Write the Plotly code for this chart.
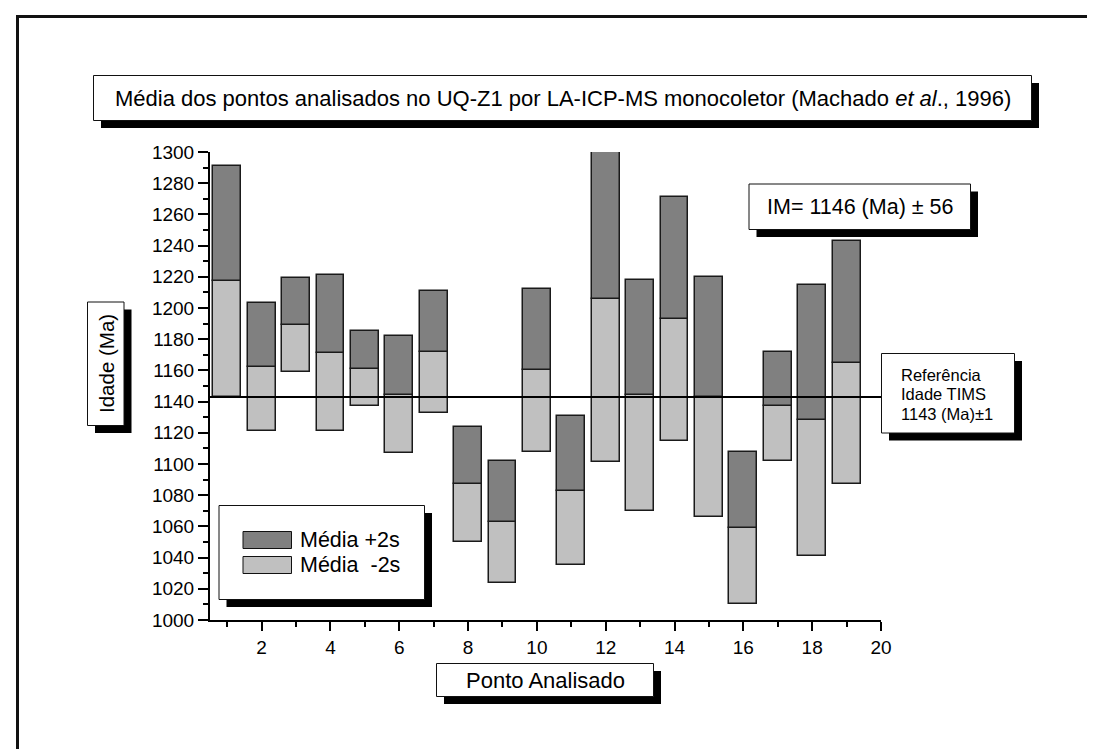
import plotly.graph_objects as go

# ---- data ----
points = list(range(1, 20))
media_menos_2s = [1143, 1121, 1159, 1121, 1137, 1107, 1133, 1050, 1024, 1108,
                  1035, 1101, 1070, 1115, 1066, 1010, 1102, 1041, 1087]
media = [1217, 1162, 1189, 1171, 1161, 1144, 1172, 1087, 1063, 1160,
         1083, 1206, 1144, 1193, 1143, 1059, 1137, 1128, 1165]
media_mais_2s = [1291, 1203, 1219, 1221, 1185, 1182, 1211, 1124, 1102, 1212,
                 1131, 1311, 1218, 1271, 1220, 1108, 1172, 1215, 1243]
ref_age = 1143

title_text = "Média dos pontos analisados no UQ-Z1 por LA-ICP-MS monocoletor (Machado <i>et al</i>., 1996)"
y_title = "Idade (Ma)"
x_title = "Ponto Analisado"
im_text = "IM= 1146 (Ma) ± 56"
ref_lines = ["Referência", "Idade TIMS", "1143 (Ma)±1"]
legend_labels = ["Média +2s", "Média\u00a0 -2s"]

DARK = "#808080"
LIGHT = "#c0c0c0"
FONT = "Liberation Sans, Arial, sans-serif"

W, H = 1095, 749
L, R, T, B = 202, 873, 144, 612

def px(x):
    return (x - L) / (R - L)

def py(y):
    return (B - y) / (B - T)

fig = go.Figure()

fig.add_trace(go.Bar(
    x=points, y=[m - lo for m, lo in zip(media, media_menos_2s)], base=media_menos_2s,
    width=0.81, marker=dict(color=LIGHT, line=dict(color="#1a1a1a", width=1.5)),
    name=legend_labels[1], showlegend=False, hoverinfo="skip"))
fig.add_trace(go.Bar(
    x=points, y=[hi - m for hi, m in zip(media_mais_2s, media)], base=media,
    width=0.81, marker=dict(color=DARK, line=dict(color="#1a1a1a", width=1.5)),
    name=legend_labels[0], showlegend=False, hoverinfo="skip"))

shapes = []
annotations = []

# outer frame
shapes.append(dict(type="rect", xref="paper", yref="paper",
                   x0=px(9.5), x1=px(1110), y0=py(8.5), y1=py(770),
                   line=dict(color="#111", width=3), fillcolor="rgba(0,0,0,0)", layer="above"))

def shadow_box(x0, y0, x1, y1, off=7.5):
    shapes.append(dict(type="rect", xref="paper", yref="paper",
                       x0=px(x0 + off), x1=px(x1 + off), y0=py(y0 + off), y1=py(y1 + off),
                       line=dict(width=0), fillcolor="black", layer="above"))
    shapes.append(dict(type="rect", xref="paper", yref="paper",
                       x0=px(x0), x1=px(x1), y0=py(y0), y1=py(y1),
                       line=dict(color="#111", width=1), fillcolor="white", layer="above"))

def text(x, y, s, size=20, xanchor="center", angle=0):
    annotations.append(dict(xref="paper", yref="paper", x=px(x), y=py(y), text=s,
                            showarrow=False, xanchor=xanchor, yanchor="middle",
                            textangle=angle, font=dict(family=FONT, size=size, color="black")))

# reference line
shapes.append(dict(type="line", xref="paper", yref="y", x0=0, x1=px(876),
                   y0=ref_age, y1=ref_age, line=dict(color="black", width=2), layer="above"))

# title box
shadow_box(85.5, 67.5, 1023.5, 112.5)
text(554.5, 90.5, title_text, 22)

# y title box
shadow_box(79.5, 294, 116, 417.5)
text(98, 356, y_title, 20.5, angle=-90)

# IM box
shadow_box(741, 176, 962.5, 221.5)
text(852, 199, im_text, 21.5)

# reference box
shadow_box(873.5, 345.5, 1006.5, 425)
for i, s in enumerate(ref_lines):
    text(890.5, 367 + 19.3 * i, s, 16.5, xanchor="left")

# legend box
shadow_box(211, 497.5, 416.5, 591.5)
for i, (lab, col) in enumerate(zip(legend_labels, [DARK, LIGHT])):
    y0 = 523.5 + 25 * i
    shapes.append(dict(type="rect", xref="paper", yref="paper",
                       x0=px(235), x1=px(283.5), y0=py(y0), y1=py(y0 + 17),
                       line=dict(color="#111", width=1), fillcolor=col, layer="above"))
    text(290, y0 + 8.5, lab, 21.5, xanchor="left")

# x title box
shadow_box(428.5, 655.5, 645.5, 688.5)
text(537, 672, x_title, 22)

fig.update_layout(
    width=W, height=H,
    margin=dict(l=L, r=W - R, t=T, b=H - B, pad=0),
    paper_bgcolor="white", plot_bgcolor="white",
    barmode="overlay", bargap=0,
    shapes=shapes, annotations=annotations,
    font=dict(family=FONT, color="black"),
    showlegend=False,
)
fig.update_xaxes(
    range=[0.5, 20], tick0=0, dtick=2, showgrid=False, zeroline=False,
    showline=True, linecolor="black", linewidth=2,
    ticks="outside", ticklen=9, tickwidth=1.5, tickcolor="black",
    tickfont=dict(family=FONT, size=19),
    minor=dict(dtick=1, ticks="outside", ticklen=5, tickwidth=1.5, tickcolor="black", showgrid=False),
)
fig.update_yaxes(
    range=[1000, 1300], tick0=1000, dtick=20, showgrid=False, zeroline=False,
    showline=True, linecolor="black", linewidth=2,
    ticks="outside", ticklen=10, tickwidth=1.5, tickcolor="black",
    tickfont=dict(family=FONT, size=19),
    minor=dict(dtick=10, ticks="outside", ticklen=5, tickwidth=1.5, tickcolor="black", showgrid=False),
)

fig.write_html("out.html")
